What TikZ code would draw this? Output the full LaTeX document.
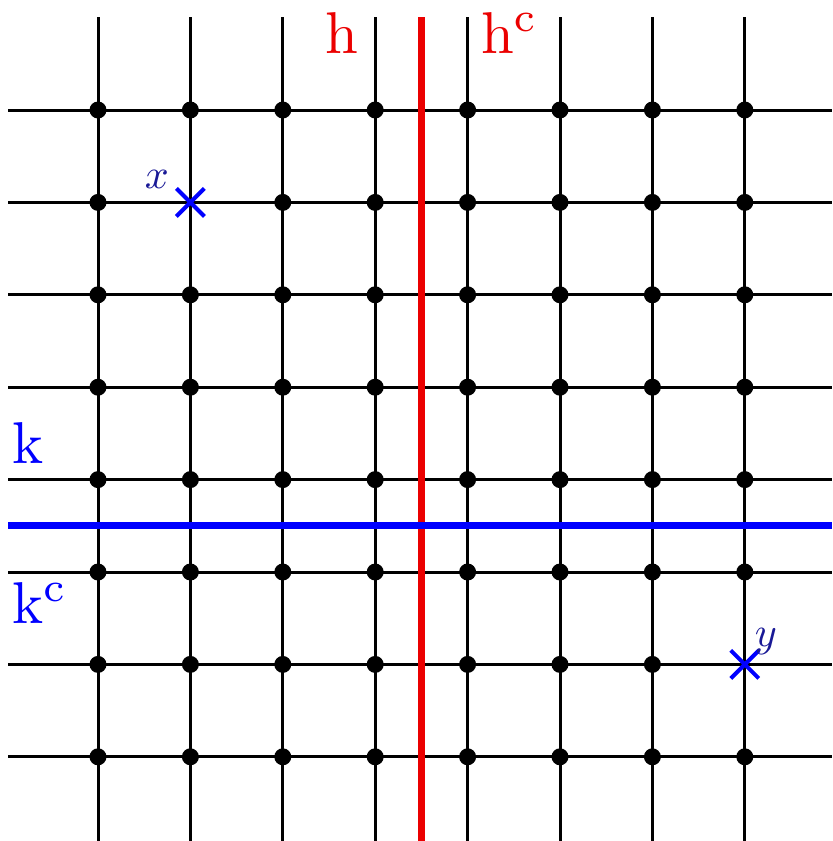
\documentclass[tikz,border=0pt]{standalone}
\usetikzlibrary{shapes.misc}
\definecolor{hred}{RGB}{235,0,0}
\definecolor{kblue}{RGB}{0,0,255}
\definecolor{labnavy}{RGB}{25,25,150}
\begin{document}
\begin{tikzpicture}[x=0.5pt,y=-0.5pt,
  gridline/.style={line width=1.5pt,black},
  dot/.style={circle,fill=black,inner sep=0pt,minimum size=8.5pt},
  hline/.style={line width=3.6pt,hred},
  kline/.style={line width=3.6pt,kblue},
  crossmark/.style={cross out,draw=kblue,line width=2pt,inner sep=0pt,minimum size=12pt},
  biglab/.style={inner sep=0pt,scale=2.95},
  smalllab/.style={inner sep=0pt,text=labnavy,scale=2.1}]
\useasboundingbox (0,0) rectangle (832,841);
% grid coordinates
\foreach \i in {0,...,7} {
  \coordinate (vt\i) at ({98+92.4*\i},17);
  \coordinate (vb\i) at ({98+92.4*\i},841);
  \coordinate (hl\i) at (8,{110+92.4*\i});
  \coordinate (hr\i) at (832,{110+92.4*\i});
}
\foreach \i in {0,...,7} {
  \draw[gridline] (vt\i) -- (vb\i);
  \draw[gridline] (hl\i) -- (hr\i);
}
% dots
\foreach \i in {0,...,7} {
  \foreach \j in {0,...,7} {
    \pgfmathtruncatemacro{\skip}{(\i==1 && \j==1) || (\i==7 && \j==6) ? 1 : 0}
    \ifnum\skip=0
      \node[dot] (d\i-\j) at ({98+92.4*\i},{110+92.4*\j}) {};
    \fi
  }
}
% half-space lines
\coordinate (ht) at (421.4,17);
\coordinate (hb) at (421.4,841);
\coordinate (kl) at (8,525.8);
\coordinate (kr) at (832,525.8);
\draw[hline] (ht) -- (hb);
\draw[kline] (kl) -- (kr);
% labels
\node[biglab,text=hred,anchor=base] (hlab) at (341.5,53) {$\mathrm{h}$};
\node[biglab,text=hred,anchor=base west] (hclab) at (480,53) {$\mathrm{h}^{\mathrm{c}}$};
\node[biglab,text=kblue,anchor=base west] (klab) at (11,463) {$\mathrm{k}$};
\node[biglab,text=kblue,anchor=base west] (kclab) at (11,623) {$\mathrm{k}^{\mathrm{c}}$};
% points
\node[crossmark] (px) at (190.4,202.4) {};
\node[crossmark] (py) at (744.8,664.4) {};
\node[smalllab,anchor=base] (xlab) at (157,188) {$x$};
\node[smalllab,anchor=base] (ylab) at (766,646) {$y$};
\end{tikzpicture}
\end{document}
